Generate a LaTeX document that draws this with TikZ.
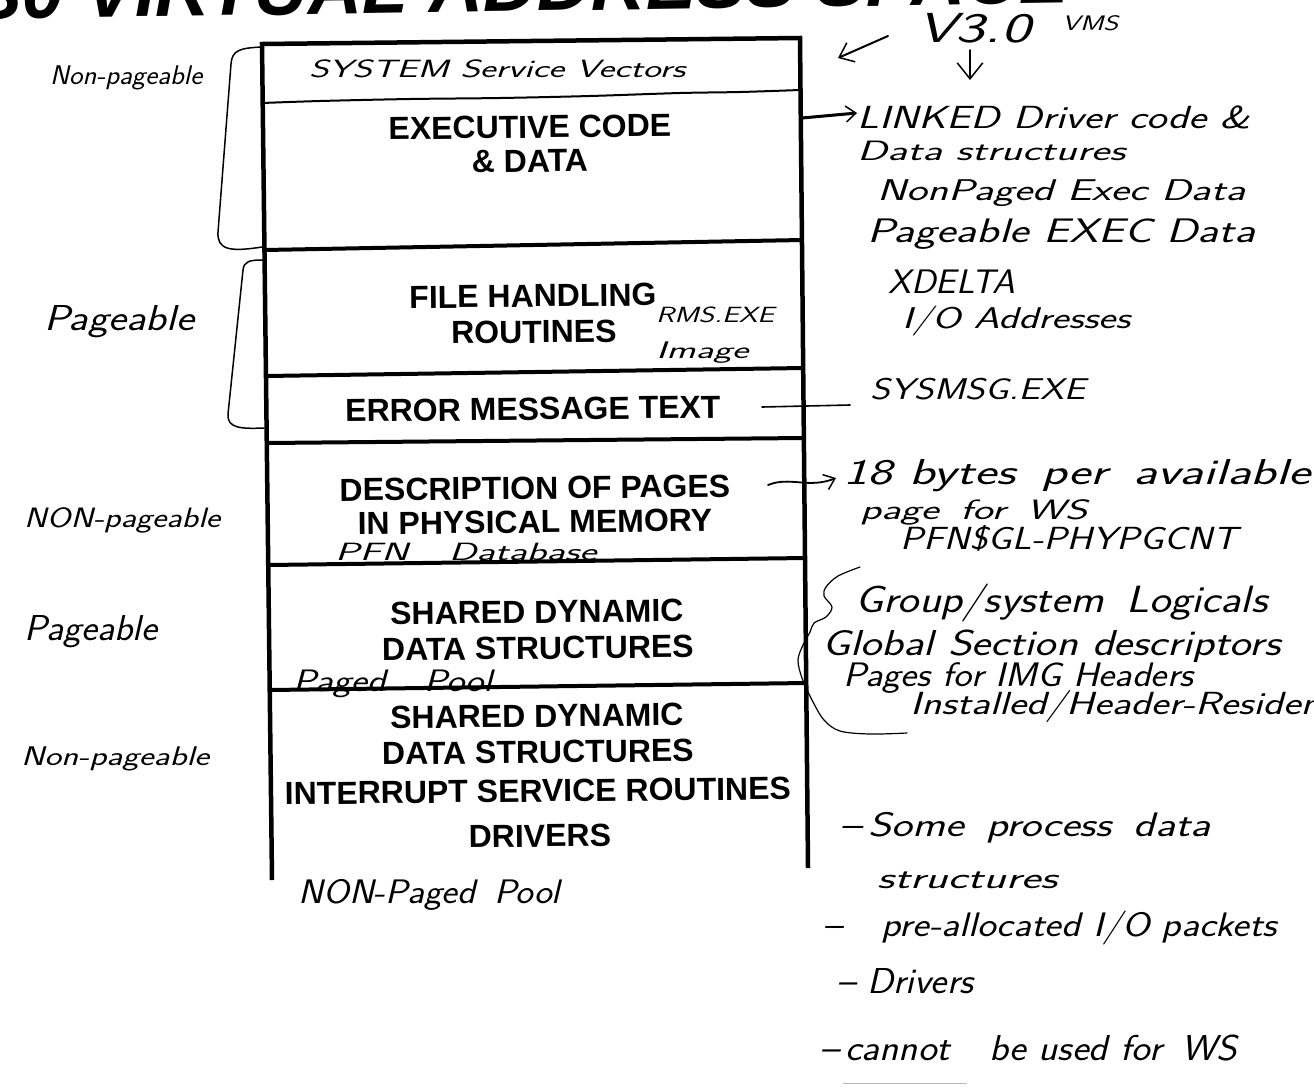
\documentclass[tikz,border=0pt]{standalone}
\usepackage{fontspec}
\usepackage{graphicx}
\usetikzlibrary{arrows.meta}
\newfontfamily\printfont{Liberation Sans}
% handwritten note: width (pt), size (pt), text
\newcommand{\hw}[3]{\resizebox{#1pt}{\height}{\fontsize{#2}{#2}\selectfont\sffamily\itshape #3}}

\begin{document}
\begin{tikzpicture}[x=1pt,y=-1pt,
  wall/.style={line width=4.5pt, line join=miter},
  sep/.style={line width=4pt},
  pen/.style={line width=1.5pt, line cap=round, line join=round},
  barb/.style={-{Straight Barb[length=#1, width=1.6*#1, line width=1.5pt]}},
  pr/.style={inner sep=0pt, anchor=base, rotate=0.6,
    font=\printfont\bfseries\fontsize{32}{32}\selectfont},
  hand/.style={inner sep=0pt, anchor=base west}]

\useasboundingbox (0,0) rectangle (1314,1088);
\clip (0,0) rectangle (1314,1088);

% heading, mostly outside the page
\node[anchor=base east, inner sep=0pt, rotate=0.85,
  font=\printfont\bfseries\itshape\fontsize{75}{75}\selectfont] (title) at (1070,3)
  {S0 VIRTUAL ADDRESS SPACE};

% ---- memory map column ----
\coordinate (tl) at (262,44);
\coordinate (tr) at (800,38);
\coordinate (bl) at (272,880);
\coordinate (br) at (808,868);
\draw[wall] (bl) -- (tl) -- (tr) -- (br);

\coordinate (l1) at (264.5,250); \coordinate (r1) at (801.9,240);
\coordinate (l2) at (266,376);   \coordinate (r2) at (803.2,368);
\coordinate (l3) at (266.8,443); \coordinate (r3) at (803.9,438);
\coordinate (l4) at (268.2,565); \coordinate (r4) at (805,558);
\coordinate (l5) at (269.7,690); \coordinate (r5) at (806.2,683);
\foreach \i in {1,...,5} \draw[sep] (l\i) -- (r\i);

% hand-drawn divider under the vectors
\draw[line width=2pt] plot[smooth] coordinates
  {(262,103) (320,101) (410,99) (500,98) (590,96) (680,93) (740,92) (800,90)};

% printed section titles
\node[pr] (exec1) at (530,138) {EXECUTIVE CODE};
\node[pr] (exec2) at (530,172) {\& DATA};
\node[pr] (file1) at (533,307) {FILE HANDLING};
\node[pr] (file2) at (534,343) {ROUTINES};
\node[pr] (err)   at (533,420) {ERROR MESSAGE TEXT};
\node[pr] (desc1) at (535,499) {DESCRIPTION OF PAGES};
\node[pr] (desc2) at (535,533) {IN PHYSICAL MEMORY};
\node[pr] (shA1)  at (537,623) {SHARED DYNAMIC};
\node[pr] (shA2)  at (538,659) {DATA STRUCTURES};
\node[pr] (shB1)  at (537,727) {SHARED DYNAMIC};
\node[pr] (shB2)  at (538,763) {DATA STRUCTURES};
\node[pr] (isr)   at (538,802) {INTERRUPT SERVICE ROUTINES};
\node[pr] (drv)   at (540,847) {DRIVERS};

% ---- left brackets ----
\coordinate (ba0) at (262,47);
\coordinate (ba1) at (262,247);
\draw[pen] (ba0) .. controls (240,48) and (232,50) .. (231,64)
  -- (218,232) .. controls (217,250) and (230,252) .. (ba1);
\coordinate (bb0) at (263,260);
\coordinate (bb1) at (264,428);
\draw[pen] (bb0) .. controls (250,260) and (244,261) .. (243,270)
  -- (228,414) .. controls (227,428) and (240,429) .. (bb1);

% ---- handwritten notes, left ----
\node[hand] (np1) at (50,84)   {\hw{152}{27}{Non-pageable}};
\node[hand] (pg1) at (44,330)  {\hw{150}{36}{Pageable}};
\node[hand] (np2) at (24,527)  {\hw{196}{28}{NON-pageable}};
\node[hand] (pg2) at (24,640)  {\hw{133}{36}{Pageable}};
\node[hand] (np3) at (21,765)  {\hw{188}{27}{Non-pageable}};

% ---- handwritten notes inside the column ----
\node[hand] (ssv)  at (309,77)  {\hw{376}{25}{SYSTEM Service Vectors}};
\node[hand] (rms)  at (656,322) {\hw{118}{22}{RMS.EXE}};
\node[hand] (img)  at (656,358) {\hw{92}{24}{Image}};
\node[hand] (pfn)  at (335,560) {\hw{261}{25}{PFN\quad Database}};
\node[hand] (ppl)  at (293,691) {\hw{199}{31}{Paged\quad Pool}};
\node[hand] (npp)  at (298,903) {\hw{262}{34}{NON-Paged\enspace Pool}};

% ---- handwritten notes, right ----
\node[hand] (ver)  at (917,42)  {\hw{113}{42}{V3.0}};
\node[hand] (vms)  at (1062,30) {\hw{56}{21}{VMS}};
\coordinate (ua0) at (888,36);
\coordinate (ua1) at (838,58);
\draw[pen, line width=2pt, barb=13pt] (ua0) -- (ua1);
\coordinate (da0) at (970,50);
\coordinate (da1) at (970,80);
\draw[pen, line width=2pt, barb=16pt] (da0) -- (da1);

\node[hand] (n1) at (857,128) {\hw{393}{32}{LINKED Driver code \&}};
\node[hand] (n2) at (857,160) {\hw{268}{28}{Data structures}};
\node[hand] (n3) at (877,200) {\hw{368}{30}{NonPaged Exec Data}};
\node[hand] (n4) at (867,242) {\hw{388}{34}{Pageable EXEC Data}};
\node[hand] (n5) at (888,293) {\hw{127}{34}{XDELTA}};
\node[hand] (n6) at (902,328) {\hw{228}{30}{I/O Addresses}};
\draw[pen, line width=3pt, barb=10pt] (r1 |- 0,118) -- (n1.base west |- 0,113) ;

\node[hand] (n7) at (870,399) {\hw{215}{30}{SYSMSG.EXE}};
\coordinate (e0) at (762,407);
\draw[pen, line width=1.6pt] (e0) -- ([xshift=-20pt]n7.base west |- 0,405);

\node[hand] (d1) at (843,484) {\hw{467}{36}{18 bytes\enspace per\enspace available}};
\node[hand] (d2) at (860,519) {\hw{227}{28}{page\enspace for\enspace WS}};
\node[hand] (d3) at (900,549) {\hw{337}{32}{PFN\$GL-PHYPGCNT}};
\coordinate (dd0) at (768,485);
\coordinate (dd1) at (836,478);
\draw[pen, line width=1.8pt, barb=10pt] (dd0) .. controls (790,476) and (808,489) .. (dd1);

% brace beside the shared structures
\draw[line width=1.2pt, line cap=round] plot[smooth, tension=0.55] coordinates
  {(860,567) (838,576) (826,587) (824,596) (832,607) (826,617) (814,623)
   (810,632) (803,645) (798,660) (802,678) (812,700) (824,720) (840,731)
   (870,734) (907,733)};

\node[hand] (g1) at (855,612) {\hw{412}{38}{Group/system\enspace Logicals}};
\node[hand] (g2) at (822,655) {\hw{458}{36}{Global Section descriptors}};
\node[hand] (g3) at (843,686) {\hw{350}{34}{Pages for IMG Headers}};
\node[hand] (g4) at (910,714) {\hw{425}{32}{Installed/Header-Resident}};

\node[hand] (s1) at (840,836) {\hw{370}{34}{\textendash\,Some\enspace process\enspace data}};
\node[hand] (s2) at (877,888) {\hw{180}{30}{structures}};
\node[hand] (s3) at (823,936) {\hw{454}{34}{\textendash\quad pre-allocated I/O packets}};
\node[hand] (s4) at (837,993) {\hw{136}{36}{\textendash\ Drivers}};
\node[hand] (s5) at (820,1060) {\hw{417}{36}{\textendash\,cannot\quad be used for\enspace WS}};
\coordinate (u0) at (843,1083);
\coordinate (u1) at (967,1083);
\draw[gray!55, line width=0.8pt] (u0) -- (u1);

\end{tikzpicture}
\end{document}
